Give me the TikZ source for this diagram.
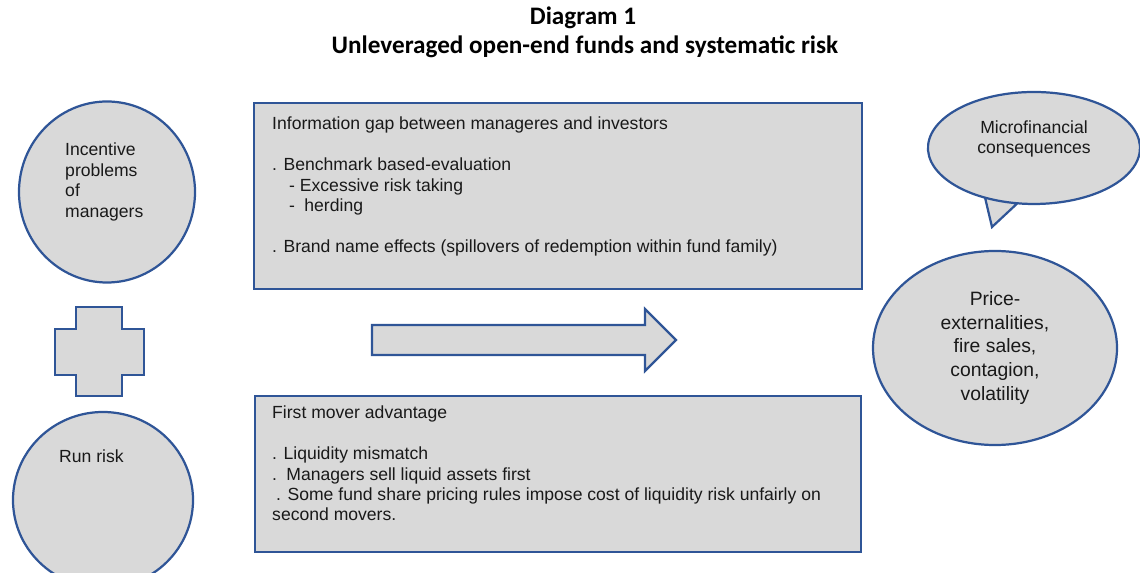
\documentclass[tikz,border=0pt]{standalone}
\usepackage{fontspec}
\setmainfont{Liberation Sans}
\newfontfamily\titlefont{Carlito}
\usetikzlibrary{shapes.geometric}
\definecolor{edgeblue}{RGB}{47,85,151}
\definecolor{panelgray}{RGB}{217,217,217}
\tikzstyle{blob} = [draw=edgeblue, fill=panelgray, line width=1.9pt]
\tikzstyle{panel} = [blob, rectangle, anchor=north west, inner sep=0]
\tikzstyle{oval} = [blob, ellipse, inner sep=0]
\tikzstyle{body} = [font=\fontsize{15}{17.4}\selectfont, align=left, anchor=north west, inner sep=0, text=black!90]
\tikzstyle{heading} = [font=\titlefont\bfseries\fontsize{21.5}{24}\selectfont, inner sep=0]

\begin{document}
\begin{tikzpicture}[x=0.03cm, y=-0.03cm]
        \useasboundingbox (0,0) rectangle (1140,573);
        % \draw[step=20,gray,very thin] (0,0) grid (1140,573);
        \node[heading] (title) at (583,18) {Diagram 1};
        \node[heading] (subtitle) at (585,47) {Unleveraged open-end funds and systematic risk};

        % left column
        \node[oval, minimum width=5.28cm, minimum height=5.43cm] (incentive) at (107,192) {};
        \node[body] (incentivetext) at (65,143) {Incentive\\problems\\of\\managers};
        \draw[blob] (76,307) -- (122,307) -- (122,329) -- (144,329) -- (144,375) -- (122,375)
            -- (122,396) -- (76,396) -- (76,375) -- (55,375) -- (55,329) -- (76,329) -- cycle;
        \node[oval, minimum width=5.4cm, minimum height=5.28cm] (runrisk) at (103,500) {};
        \node[body] (runrisktext) at (59,450) {Run risk};

        % middle column
        \node[panel, minimum width=18.24cm, minimum height=5.58cm] (gapbox) at (253,102) {};
        \node[body] (gaptext) at (272,117) {Information gap between manageres and investors\\[17.4pt]
            . Benchmark based-evaluation\\
            \hspace{14.5pt}- Excessive risk taking\\
            \hspace{14.5pt}-\hspace{8pt}herding\\[17.4pt]
            . Brand name effects (spillovers of redemption within fund family)};
        \draw[blob] (372,325) -- (645,325) -- (645,309) -- (676,340) -- (645,371) -- (645,355)
            -- (372,355) -- cycle;
        \node[panel, minimum width=18.18cm, minimum height=4.68cm] (moverbox) at (254,395) {};
        \node[body] (movertext) at (272,406) {First mover advantage\\[17.4pt]
            . Liquidity mismatch\\
            .\hspace{8pt}Managers sell liquid assets first\\
            \hspace{3.4pt}. Some fund share pricing rules impose cost of liquidity risk unfairly on\\
            second movers.};

        % right column
        \draw[blob] (992,227) -- (1017.4,203.3) arc[start angle=99, end angle=477.5, x radius=106, y radius=56] -- cycle;
        \node[body, anchor=center, align=center] (microtext) at (1034,139) {Microfinancial\\consequences};
        \node[oval, minimum width=7.32cm, minimum height=5.82cm, align=center, text=black!90,
            font=\fontsize{16.5}{20.4}\selectfont] (price) at (995,348)
            {Price-\\externalities,\\fire sales,\\contagion,\\volatility};
    \end{tikzpicture}
\end{document}
